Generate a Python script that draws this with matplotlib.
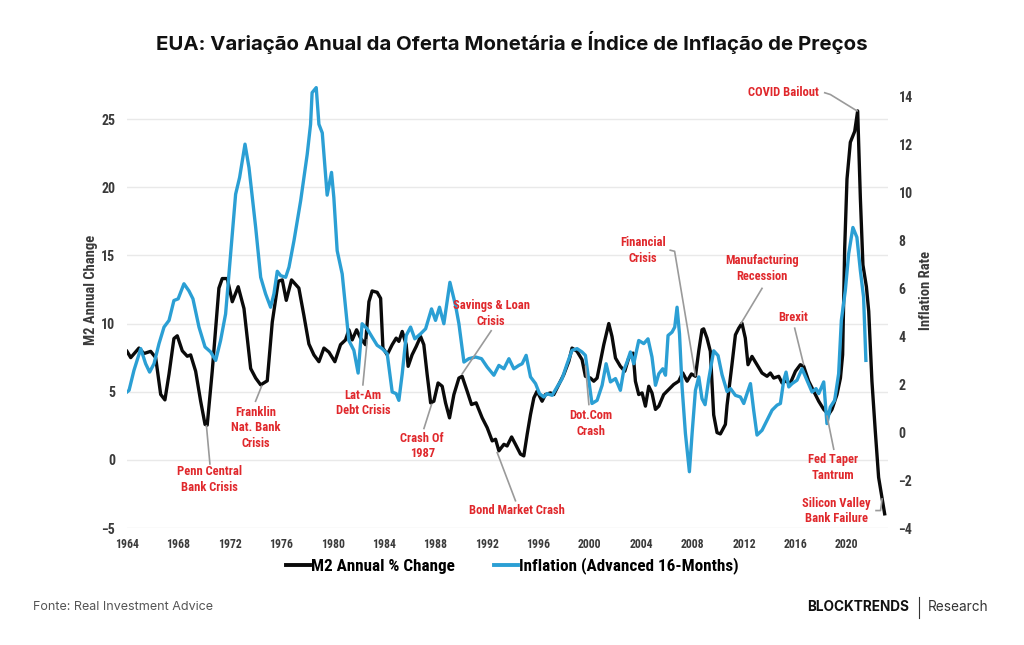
import matplotlib
matplotlib.use("Agg")
import matplotlib.pyplot as plt
from matplotlib import font_manager as fm
from matplotlib.lines import Line2D

def pick(names):
    for n in names:
        try:
            fm.findfont(fm.FontProperties(family=n), fallback_to_default=False)
            return n
        except Exception:
            pass
    return "DejaVu Sans"

COND = pick(["Liberation Sans Narrow", "Roboto Condensed", "Open Sans Condensed", "Noto Sans", "DejaVu Sans"])
TITLEF = pick(["Inter", "Roboto", "DejaVu Sans"])

# ---------------- data ----------------
m2_years = [1964.0, 1964.29, 1964.93, 1965.32, 1965.84, 1966.23, 1966.62, 1966.95, 1967.27, 1967.65,
            1967.91, 1968.30, 1968.69, 1968.95, 1969.34, 1969.73, 1970.07, 1970.24, 1970.63, 1971.15,
            1971.41, 1971.80, 1972.19, 1972.65, 1973.10, 1973.62, 1974.01, 1974.40, 1974.91, 1975.30,
            1975.77, 1976.08, 1976.39, 1976.80, 1977.37, 1977.76, 1978.15, 1978.54, 1978.93, 1979.32,
            1979.71, 1980.17, 1980.61, 1981.00, 1981.26, 1981.52, 1981.86, 1982.17, 1982.55, 1982.82,
            1983.07, 1983.46, 1983.73, 1983.91, 1984.24, 1984.63, 1984.94, 1985.15, 1985.41, 1985.72,
            1985.87, 1986.18, 1986.50, 1986.84, 1987.09, 1987.35, 1987.62, 1987.87, 1988.20, 1988.52,
            1988.78, 1989.09, 1989.43, 1989.82, 1990.07, 1990.46, 1990.80, 1991.16, 1991.63, 1992.02,
            1992.41, 1992.67, 1992.93, 1993.32, 1993.57, 1993.92, 1994.22, 1994.61, 1994.87, 1995.13,
            1995.39, 1995.65, 1995.90, 1996.29, 1996.55, 1996.94, 1997.20, 1997.59, 1997.98, 1998.37,
            1998.62, 1999.01, 1999.40, 1999.66, 2000.05, 2000.31, 2000.57, 2000.83, 2001.09, 2001.48,
            2001.73, 2002.00, 2002.38, 2002.72, 2003.03, 2003.37, 2003.55, 2003.81, 2004.07, 2004.33,
            2004.59, 2004.84, 2005.11, 2005.37, 2005.75, 2006.14, 2006.53, 2006.92, 2007.23, 2007.57,
            2007.91, 2008.22, 2008.48, 2008.73, 2008.86, 2009.12, 2009.38, 2009.64, 2009.90, 2010.16,
            2010.55, 2010.68, 2011.06, 2011.33, 2011.59, 2011.84, 2012.10, 2012.31, 2012.62, 2013.01,
            2013.40, 2013.79, 2014.05, 2014.31, 2014.70, 2014.96, 2015.22, 2015.61, 2016.00, 2016.38,
            2016.64, 2017.03, 2017.42, 2017.81, 2018.20, 2018.58, 2018.84, 2019.23, 2019.50, 2019.67,
            2019.83, 2020.01, 2020.27, 2020.61, 2020.84, 2021.05, 2021.25, 2021.52, 2021.70, 2021.95,
            2022.21, 2022.47, 2022.73, 2022.94]
m2_values = [7.96, 7.5, 8.2, 7.8, 7.96, 7.5, 4.8, 4.4, 6.3, 8.9,
             9.1, 8.0, 7.6, 7.7, 6.5, 4.3, 2.6, 2.55, 6.5, 12.6,
             13.3, 13.3, 11.6, 12.7, 11.1, 6.7, 6.0, 5.5, 5.8, 10.1,
             13.1, 13.2, 11.7, 13.2, 12.6, 10.6, 8.5, 7.7, 7.2, 8.2,
             7.9, 7.2, 8.45, 8.8, 9.54, 8.8, 9.54, 8.93, 8.45, 11.6,
             12.39, 12.29, 11.85, 8.2, 7.71, 8.45, 8.93, 8.69, 9.42, 8.45,
             6.86, 7.71, 8.32, 9.05, 8.45, 6.26, 4.18, 4.3, 5.64, 5.4,
             4.18, 3.08, 4.79, 6.0, 6.13, 5.04, 4.06, 4.18, 3.08, 2.36,
             1.39, 1.51, 0.66, 1.14, 1.02, 1.68, 1.14, 0.42, 0.29, 1.87,
             3.33, 4.55, 5.04, 4.3, 4.79, 4.91, 4.79, 5.53, 6.26, 7.23,
             8.2, 7.96, 7.35, 6.13, 6.0, 5.77, 6.0, 7.23, 8.45, 10.0,
             9.05, 7.47, 6.86, 6.5, 7.47, 7.83, 5.77, 4.79, 4.91, 3.94,
             5.4, 4.91, 3.7, 3.94, 4.79, 5.16, 5.53, 5.77, 6.38, 5.77,
             6.3, 6.13, 8.0, 9.54, 9.61, 8.93, 7.96, 3.3, 2.0, 1.9,
             2.6, 4.0, 6.98, 9.17, 9.66, 10.02, 8.93, 6.98, 7.59, 6.98,
             6.37, 6.13, 6.37, 6.0, 6.13, 5.64, 5.77, 5.64, 6.5, 6.98,
             6.86, 5.77, 5.04, 4.3, 3.7, 3.33, 3.7, 4.79, 6.0, 7.71,
             15.5, 20.6, 23.3, 24.1, 25.6, 19.2, 14.3, 12.7, 10.9, 5.77,
             2.12, -1.29, -2.75, -3.96]

inf_years = [1964.0, 1964.16, 1964.54, 1965.07, 1965.45, 1965.76, 1966.10, 1966.49, 1966.88, 1967.27,
             1967.65, 1967.98, 1968.43, 1968.82, 1969.13, 1969.60, 1970.07, 1970.51, 1970.90, 1971.28,
             1971.67, 1972.06, 1972.45, 1972.76, 1973.18, 1973.49, 1974.01, 1974.40, 1974.78, 1975.17,
             1975.43, 1975.69, 1975.95, 1976.34, 1976.60, 1976.99, 1977.51, 1978.02, 1978.28, 1978.40,
             1978.72, 1978.93, 1979.19, 1979.57, 1979.91, 1980.09, 1980.35, 1980.74, 1981.00, 1981.26,
             1981.65, 1981.98, 1982.29, 1982.68, 1983.07, 1983.46, 1983.85, 1984.24, 1984.63, 1984.94,
             1985.15, 1985.41, 1985.72, 1986.06, 1986.39, 1986.84, 1987.23, 1987.69, 1988.00, 1988.31,
             1988.65, 1989.12, 1989.56, 1989.82, 1990.21, 1990.59, 1991.12, 1991.58, 1992.02, 1992.54,
             1992.93, 1993.32, 1993.71, 1994.09, 1994.48, 1994.74, 1995.05, 1995.39, 1995.78, 1996.09,
             1996.42, 1996.68, 1997.07, 1997.46, 1997.85, 1998.24, 1998.62, 1999.01, 1999.40, 1999.66,
             1999.92, 2000.17, 2000.57, 2000.96, 2001.27, 2001.61, 2002.00, 2002.38, 2002.64, 2002.90,
             2003.16, 2003.42, 2003.81, 2004.20, 2004.53, 2004.84, 2005.11, 2005.37, 2005.68, 2005.89,
             2006.09, 2006.40, 2006.61, 2006.79, 2006.98, 2007.18, 2007.44, 2007.75, 2007.96, 2008.22,
             2008.48, 2008.73, 2008.97, 2009.25, 2009.64, 2009.98, 2010.29, 2010.68, 2010.95, 2011.33,
             2011.72, 2011.98, 2012.23, 2012.50, 2012.75, 2013.01, 2013.40, 2013.79, 2014.18, 2014.57,
             2014.83, 2015.09, 2015.27, 2015.48, 2015.74, 2016.12, 2016.51, 2016.90, 2017.29, 2017.60,
             2017.81, 2018.20, 2018.45, 2018.71, 2019.05, 2019.36, 2019.57, 2019.88, 2020.14, 2020.47,
             2020.78, 2021.05, 2021.30, 2021.48]
inf_values = [1.68, 1.75, 2.58, 3.49, 2.86, 2.51, 2.86, 3.7, 4.39, 4.67,
              5.5, 5.57, 6.2, 5.9, 5.57, 4.39, 3.56, 3.35, 3.0, 3.83,
              4.94, 7.45, 9.94, 10.64, 12.03, 11.05, 8.55, 6.47, 5.78, 5.22,
              5.78, 6.72, 6.54, 6.47, 6.89, 8.0, 9.67, 11.61, 12.86, 14.18,
              14.39, 12.86, 12.5, 9.9, 10.85, 9.8, 7.58, 6.61, 5.22, 3.83,
              3.42, 2.47, 4.53, 4.32, 3.97, 3.63, 3.49, 3.28, 1.68, 1.61,
              1.33, 2.44, 4.04, 4.39, 3.9, 4.11, 4.32, 5.15, 4.67, 5.22,
              4.53, 6.26, 5.29, 4.53, 2.93, 3.07, 3.14, 3.07, 2.72, 2.38,
              2.79, 2.65, 3.07, 2.65, 2.79, 2.86, 3.21, 2.31, 2.03, 1.61,
              1.47, 1.61, 1.54, 1.89, 2.24, 2.86, 3.42, 3.49, 3.35, 3.21,
              2.17, 1.2, 1.33, 1.96, 2.86, 2.1, 2.24, 1.75, 2.58, 2.93,
              3.35, 2.86, 3.83, 3.7, 3.9, 3.14, 1.96, 2.44, 2.65, 2.38,
              4.04, 4.18, 4.39, 5.22, 4.11, 1.89, -0.05, -1.65, -0.05, 1.75,
              2.31, 1.4, 1.15, 2.2, 3.4, 3.2, 2.4, 1.7, 1.82, 1.54,
              1.47, 1.2, 1.61, 2.03, 0.92, -0.12, 0.08, 0.5, 0.92, 1.13,
              1.2, 2.17, 2.51, 1.89, 2.03, 2.17, 2.65, 2.17, 1.68, 1.82,
              1.61, 2.1, 0.36, 1.05, 1.33, 2.44, 4.67, 5.92, 7.45, 8.55,
              8.14, 6.75, 5.64, 3.0]

x_ticks = list(range(1964, 2021, 4))
left_ticks = [-5, 0, 5, 10, 15, 20, 25]
right_ticks = [-4, -2, 0, 2, 4, 6, 8, 10, 12, 14]

# annotations: text, text position (year, M2 scale), leader path (year, M2 scale)
events = [
    ("Penn Central\nBank Crisis", (1970.45, -1.46), [(1970.45, -0.3), (1970.18, 2.5)]),
    ("Franklin\nNat. Bank\nCrisis", (1974.0, 2.36), [(1974.0, 4.3), (1974.47, 5.4)]),
    ("Lat-Am\nDebt Crisis", (1982.35, 4.18), [(1982.35, 5.5), (1982.69, 8.8)]),
    ("Crash Of\n1987", (1986.96, 1.02), [(1987.1, 2.3), (1987.69, 4.06)]),
    ("Savings & Loan\nCrisis", (1992.33, 10.75), [(1992.33, 9.47), (1990.07, 6.3)]),
    ("Bond Market Crash", (1994.3, -3.72), [(1994.22, -3.0), (1992.8, 0.53)]),
    ("Dot.Com\nCrash", (2000.06, 2.68), [(1999.93, 4.06), (1999.67, 6.86)]),
    ("Financial\nCrisis", (2004.12, 15.36), [(2006.26, 15.38), (2006.6, 15.3), (2008.22, 6.18)]),
    ("Manufacturing\nRecession", (2013.4, 14.03), [(2013.4, 12.58), (2011.77, 10.02)]),
    ("Brexit", (2015.81, 10.46), [(2015.94, 9.66), (2016.64, 6.98)]),
    ("Fed Taper\nTantrum", (2018.92, -0.56), [(2018.98, 0.78), (2018.46, 3.2)]),
    ("Silicon Valley\nBank Failure", (2019.19, -3.76), [(2022.27, -3.72), (2022.62, -3.72), (2022.74, -2.87)]),
    ("COVID Bailout", (2015.03, 26.93), [(2018.28, 26.93), (2018.72, 26.8), (2020.79, 25.6)]),
]

# ---------------- style ----------------
BLACK = "#0a0a0a"
BLUE = "#2b9fd4"
RED = "#e0282c"
GREY = "#9a9a9a"
TICK = "#3a3a3a"

W, H = 1024, 645
AX_L, AX_R, AX_T, AX_B = 127, 888, 85, 528

fig = plt.figure(figsize=(W / 100, H / 100), dpi=100)
fig.patch.set_facecolor("white")
ax = fig.add_axes([AX_L / W, 1 - AX_B / H, (AX_R - AX_L) / W, (AX_B - AX_T) / H])
ax2 = ax.twinx()

ax.plot(m2_years, m2_values, color=BLACK, lw=2.4, solid_joinstyle="round", zorder=3)
ax2.plot(inf_years, inf_values, color=BLUE, lw=2.4, solid_joinstyle="round", zorder=3)

ax.set_xlim(1964, 2023.2)
ax.set_ylim(-5, 27.5)
ax2.set_ylim(-4, 14.5)
ax.set_yticks(left_ticks)
ax2.set_yticks(right_ticks)
ax.set_xticks(x_ticks)
ax.set_xticklabels([str(t) for t in x_ticks])

for a in (ax, ax2):
    for s in a.spines.values():
        s.set_visible(False)
    a.tick_params(length=0, colors=TICK)
ax.yaxis.grid(True, color="#e9e9e9", lw=1.0)
ax.set_axisbelow(True)

for lab in ax.get_xticklabels():
    lab.set_fontfamily(COND); lab.set_fontweight("bold"); lab.set_fontsize(8.5)
for lab in ax.get_yticklabels() + ax2.get_yticklabels():
    lab.set_fontfamily(COND); lab.set_fontweight("bold"); lab.set_fontsize(10)
ax.tick_params(axis="x", pad=7)
ax.tick_params(axis="y", pad=8.5)
ax2.tick_params(axis="y", pad=7.5)

# axis titles, centred where the reference has them
lab_y = (AX_B - 290) / (AX_B - AX_T)
ax.set_ylabel("M2 Annual Change", fontfamily=COND, fontweight="bold", fontsize=10.5, color=TICK)
ax.yaxis.set_label_coords((91 - AX_L) / (AX_R - AX_L), lab_y)
ax.yaxis.label.set_verticalalignment("center")
ax2.set_ylabel("Inflation Rate", fontfamily=COND, fontweight="bold", fontsize=10.5, color=TICK)
ax2.yaxis.set_label_coords((926 - AX_L) / (AX_R - AX_L), lab_y)
ax2.yaxis.label.set_verticalalignment("center")

# annotations
for txt, (tx, ty), path in events:
    ax2.text(tx, ty, txt, transform=ax.transData, ha="center", va="center", color=RED,
             fontfamily=COND, fontweight="bold", fontsize=9, linespacing=1.25, zorder=5, clip_on=False)
    xs = [p[0] for p in path]
    ys = [p[1] for p in path]
    ax2.plot(xs, ys, transform=ax.transData, color=GREY, lw=1.2, zorder=4, clip_on=False)

# legend
handles = [Line2D([0], [0], color=BLACK, lw=2.8), Line2D([0], [0], color=BLUE, lw=2.8)]
fig.legend(handles, ["M2 Annual % Change", "Inflation (Advanced 16-Months)"],
           loc="center", bbox_to_anchor=(512 / W, 1 - 566 / H), ncol=2, frameon=False,
           prop=fm.FontProperties(family=COND, weight="bold", size=12.3), handlelength=1.4,
           handletextpad=0.05, columnspacing=2.3)

# title
fig.text(0.5, 1 - 42 / H, "EUA: Variação Anual da Oferta Monetária e Índice de Inflação de Preços",
         ha="center", va="center", fontfamily=TITLEF, fontweight="bold", fontsize=14.7, color="#111111")

# footer
fig.text(33 / W, 1 - 607 / H, "Fonte: Real Investment Advice", ha="left", va="center",
         fontfamily=TITLEF, fontsize=9, color="#555555")
fig.text(909 / W, 1 - 607 / H, "BLOCKTRENDS", ha="right", va="center",
         fontfamily=TITLEF, fontweight="bold", fontsize=9.8, color="#111111")
fig.add_artist(Line2D([919 / W, 919 / W], [1 - 597 / H, 1 - 618 / H], color="#333333", lw=0.8))
fig.text(928 / W, 1 - 607 / H, "Research", ha="left", va="center",
         fontfamily=TITLEF, fontsize=9.8, color="#333333")

fig.savefig("out.png", dpi=100, facecolor="white")
